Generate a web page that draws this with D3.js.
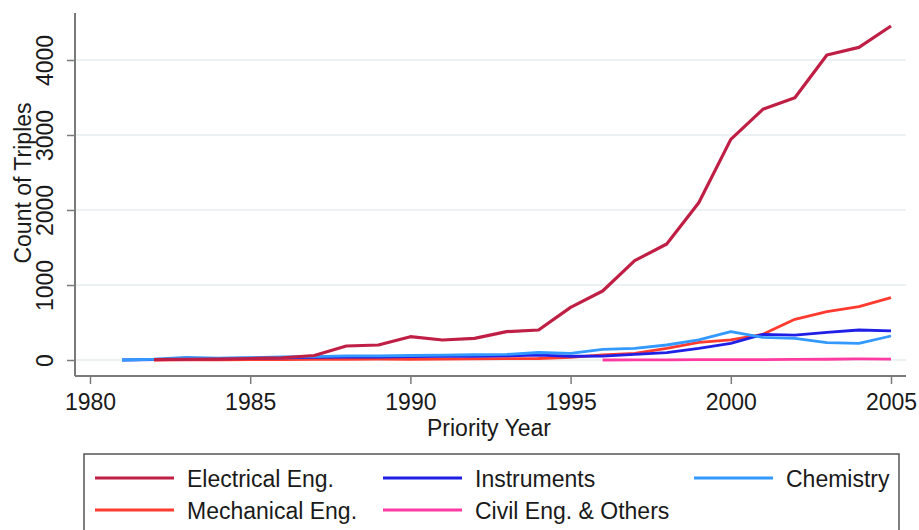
<!DOCTYPE html>
<html>
<head>
<meta charset="utf-8">
<script src="https://cdn.jsdelivr.net/npm/d3@7"></script>
<style>
  html, body { margin: 0; padding: 0; background: #fff; }
  svg { display: block; font-family: "Liberation Sans", Arial, Helvetica, sans-serif; }
</style>
</head>
<body>
<svg id="chart" width="919" height="530"></svg>
<script>
// Priority years covered by the series
const years = d3.range(1981, 2006);

// Counts of triples per technology field (null = no observation that year)
const electrical = [null, 5, 10, 12, 20, 30, 60, 187, 200, 311, 267, 289, 378, 400, 702, 920, 1324, 1547, 2097, 2942, 3342, 3497, 4067, 4169, 4453];
const mechanical = [null, 0, 2, 3, 5, 5, 8, 10, 12, 10, 12, 15, 18, 20, 36, 67, 89, 155, 236, 267, 342, 542, 644, 711, 831];
const instruments = [0, 5, 15, 20, 25, 30, 35, 40, 40, 45, 50, 50, 55, 65, 50, 53, 76, 98, 155, 222, 342, 333, 369, 400, 387];
const chemistry = [0, 10, 35, 25, 30, 40, 45, 55, 55, 60, 65, 70, 75, 100, 89, 142, 155, 200, 267, 378, 302, 289, 231, 222, 320];
const civil = [null, null, null, null, null, null, null, null, null, null, null, null, null, null, null, 0, 2, 3, 4, 5, 6, 8, 10, 14, 12];

const seriesNames = ["Electrical Eng.", "Mechanical Eng.", "Instruments", "Chemistry", "Civil Eng. & Others"];
const seriesColors = ["#c01f45", "#ff3b2f", "#1f1fe6", "#3399ff", "#ff3aa3"];
const seriesValues = [electrical, mechanical, instruments, chemistry, civil];

const xTicks = [1980, 1985, 1990, 1995, 2000, 2005];
const yTicks = [0, 1000, 2000, 3000, 4000];

const svg = d3.select("#chart");

const plotLeft = 75, plotRight = 906, plotTop = 13, plotBottom = 376;

const x = d3.scaleLinear().domain([1980, 2005]).range([90, 891]);
const y = d3.scaleLinear().domain([0, 4000]).range([360, 60]);

// Gridlines
svg.append("g")
  .selectAll("line")
  .data(yTicks)
  .join("line")
  .attr("x1", plotLeft).attr("x2", plotRight)
  .attr("y1", d => y(d)).attr("y2", d => y(d))
  .attr("stroke", "#e6eef0")
  .attr("stroke-width", 1.6);

// Series lines, drawn so the electrical series sits on top
const line = d3.line()
  .defined(d => d.v !== null)
  .x(d => x(d.year))
  .y(d => y(d.v));

const drawOrder = [4, 1, 2, 3, 0];
const linesG = svg.append("g").attr("fill", "none").attr("stroke-linejoin", "round");
drawOrder.forEach(i => {
  const pts = years.map((yr, j) => ({ year: yr, v: seriesValues[i][j] }));
  linesG.append("path")
    .datum(pts)
    .attr("d", line)
    .attr("stroke", seriesColors[i])
    .attr("stroke-width", i === 0 ? 3.2 : 2.8);
});

// Axes
const axisColor = "#7a7a7a";
const xAxis = svg.append("g")
  .attr("transform", `translate(0,${plotBottom})`)
  .call(d3.axisBottom(x).tickValues(xTicks).tickFormat(d3.format("d")).tickSize(8).tickSizeOuter(0).tickPadding(6));
xAxis.select(".domain").attr("d", `M${plotLeft},0H${plotRight}`);

const yAxis = svg.append("g")
  .attr("transform", `translate(${plotLeft},0)`)
  .call(d3.axisLeft(y).tickValues(yTicks).tickFormat(d3.format("d")).tickSize(8).tickSizeOuter(0));
yAxis.select(".domain").attr("d", `M0,${plotTop}V${plotBottom}`);

[xAxis, yAxis].forEach(g => {
  g.select(".domain").attr("stroke", axisColor).attr("stroke-width", 2);
  g.selectAll(".tick line").attr("stroke", axisColor).attr("stroke-width", 1.5);
  g.selectAll(".tick text").attr("fill", "#1a1a1a").attr("font-size", 23).attr("font-family", null);
});

xAxis.selectAll(".tick text").attr("dy", null).attr("y", 34);

yAxis.selectAll(".tick text")
  .attr("x", null).attr("dy", null)
  .attr("text-anchor", "middle")
  .attr("transform", "translate(-22,0) rotate(-90)");

// Axis titles
svg.append("text")
  .attr("x", 489).attr("y", 436)
  .attr("text-anchor", "middle")
  .attr("font-size", 23).attr("fill", "#1a1a1a")
  .text("Priority Year");

svg.append("text")
  .attr("transform", "translate(31,183) rotate(-90)")
  .attr("text-anchor", "middle")
  .attr("font-size", 23).attr("fill", "#1a1a1a")
  .text("Count of Triples");

// Legend
const legend = svg.append("g");
legend.append("rect")
  .attr("x", 84).attr("y", 454).attr("width", 815).attr("height", 100)
  .attr("fill", "#fff").attr("stroke", "#555").attr("stroke-width", 1.5);

const legendCols = [95, 383, 694];
const legendRows = [478, 510];
const legendOrder = [0, 2, 3, 1, 4];
legendOrder.forEach((si, k) => {
  const cx = legendCols[k % 3];
  const cy = legendRows[Math.floor(k / 3)];
  legend.append("line")
    .attr("x1", cx).attr("x2", cx + 79)
    .attr("y1", cy).attr("y2", cy)
    .attr("stroke", seriesColors[si]).attr("stroke-width", 3.2);
  legend.append("text")
    .attr("x", cx + 92).attr("y", cy + 9)
    .attr("font-size", 23).attr("fill", "#1a1a1a")
    .text(seriesNames[si]);
});
</script>
</body>
</html>
